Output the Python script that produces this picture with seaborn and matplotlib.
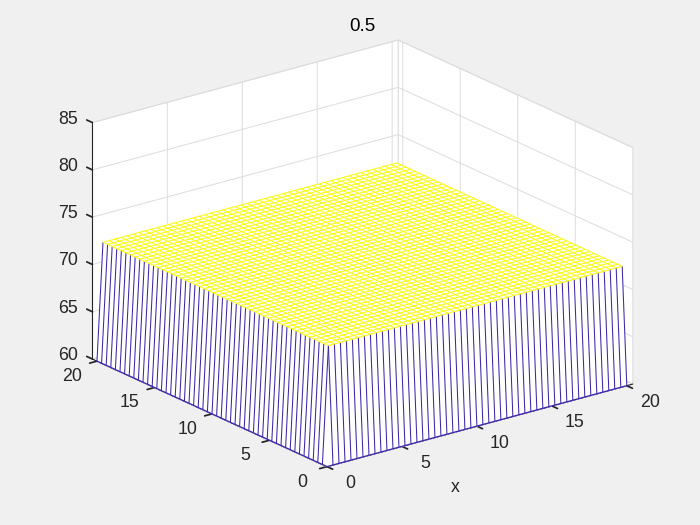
"""Mesh of a temperature field with a fixed cold rim, styled after a MATLAB figure."""
import numpy as np
import matplotlib
matplotlib.use("Agg")
import matplotlib.pyplot as plt
from matplotlib.transforms import offset_copy
import seaborn as sns

# values
x_ticks = [0, 5, 10, 15, 20]
y_ticks = [0, 5, 10, 15, 20]
z_ticks = [60, 65, 70, 75, 80, 85]
x_lim = [0, 20.4]
y_lim = [0, 20.4]
z_lim = [60, 85]
n_nodes = 51
rim_temp = 60
plateau_temp = 72.4
title = "0.5"
x_label = "x"

BLUE, YELLOW = sns.color_palette("blend:#3e26a8,#f9fb15", 2)
INK = "#262626"
GRID = "#dcdcdc"
BG = "#f0f0f0"

sns.set_theme(style="white")
plt.rcParams["font.family"] = ["Liberation Sans", "DejaVu Sans"]
plt.rcParams["font.size"] = 12.8


def nudge_labels(ax, axis, dx, dy):
    # Axis3D resets tick transforms each time it fetches ticks, so wrap that call
    original = axis.get_major_ticks
    shifted = offset_copy(ax.transData, ax.figure, x=dx, y=dy, units="dots")

    def get_major_ticks(numticks=None):
        ticks = original(numticks)
        for tick in ticks:
            tick.label1.set_va("bottom")
            tick.label1.set_transform(shifted)
        return ticks

    axis.get_major_ticks = get_major_ticks


def main():
    x = np.linspace(x_ticks[0], x_ticks[-1], n_nodes)
    X, Y = np.meshgrid(x, x)
    Z = np.full_like(X, plateau_temp)
    Z[0, :] = Z[:, 0] = rim_temp  # only the two front sides drop to the rim

    fig = plt.figure(figsize=(7, 5.25), dpi=100, facecolor=BG)
    side = 583.2
    ax = fig.add_axes([(354.7 - side / 2) / 700, (263.8 - side / 2) / 525, side / 700, side / 525],
                      projection="3d", proj_type="ortho", computed_zorder=False)
    ax.view_init(elev=20.6, azim=-127.5)
    ax.set_box_aspect((386, 386, 253))
    ax.set_xlim(*x_lim, view_margin=0); ax.set_ylim(*y_lim, view_margin=0); ax.set_zlim(*z_lim, view_margin=0)
    ax.set_xticks(x_ticks); ax.set_yticks(y_ticks); ax.set_zticks(z_ticks)
    ax.patch.set_alpha(0)

    for axis in (ax.xaxis, ax.yaxis, ax.zaxis):
        axis.set_pane_color("white")
        axis.pane.set_edgecolor(GRID)
        axis.pane.set_linewidth(0.7)
        axis.line.set_color(INK)
        axis.line.set_linewidth(0.8)
        axis._axinfo["grid"].update(color=GRID, linewidth=0.7)
    # x and y sit on the front edges, where "inward" is what points out of the box
    ax.xaxis._axinfo["tick"].update(inward_factor=0.3, outward_factor=0)
    ax.yaxis._axinfo["tick"].update(inward_factor=0.3, outward_factor=0)
    ax.zaxis._axinfo["tick"].update(inward_factor=0, outward_factor=0.3)
    ax.tick_params(colors=INK, labelsize=12.8, width=0.7, color=INK)
    ax.tick_params(axis="x", pad=5)
    ax.tick_params(axis="y", pad=6)
    ax.tick_params(axis="z", pad=1)
    ax.zaxis.set_ticks_position("upper")
    ax.zaxis._get_tickdir = lambda pos: 1  # z ticks point along y, as in the source figure
    nudge_labels(ax, ax.xaxis, 9, -5)
    nudge_labels(ax, ax.yaxis, -5, -3.5)
    nudge_labels(ax, ax.zaxis, -2, -6)

    # white faces hide the grid behind the field, like mesh() does
    ax.plot_surface(X, Y, Z, rstride=1, cstride=1, color="white", shade=False,
                    linewidth=0, antialiased=False, zorder=1)
    # front walls: blue lines running from the rim up to the first inner node
    ax.plot_wireframe(X[1:, :2], Y[1:, :2], Z[1:, :2], rstride=1, cstride=0,
                      color=BLUE, linewidth=0.75, zorder=2)
    ax.plot_wireframe(X[:2, 1:], Y[:2, 1:], Z[:2, 1:], rstride=0, cstride=1,
                      color=BLUE, linewidth=0.75, zorder=2)
    ax.plot(X[0, :], Y[0, :], Z[0, :], color=BLUE, linewidth=1.0, zorder=2)
    ax.plot(X[:, 0], Y[:, 0], Z[:, 0], color=BLUE, linewidth=1.0, zorder=2)
    ax.plot_wireframe(X[1:, 1:], Y[1:, 1:], Z[1:, 1:], rstride=1, cstride=1,
                      color=YELLOW, linewidth=0.75, zorder=3)

    fig.text(455 / 700, 1 - 488 / 525, x_label, color=INK, fontsize=12.8, ha="center", va="center")
    ax.set_title(title, color="black", fontsize=13.5, x=0.5125, y=0.972, pad=0)

    fig.savefig("out.png", dpi=100, facecolor=BG)


if __name__ == "__main__":
    main()
